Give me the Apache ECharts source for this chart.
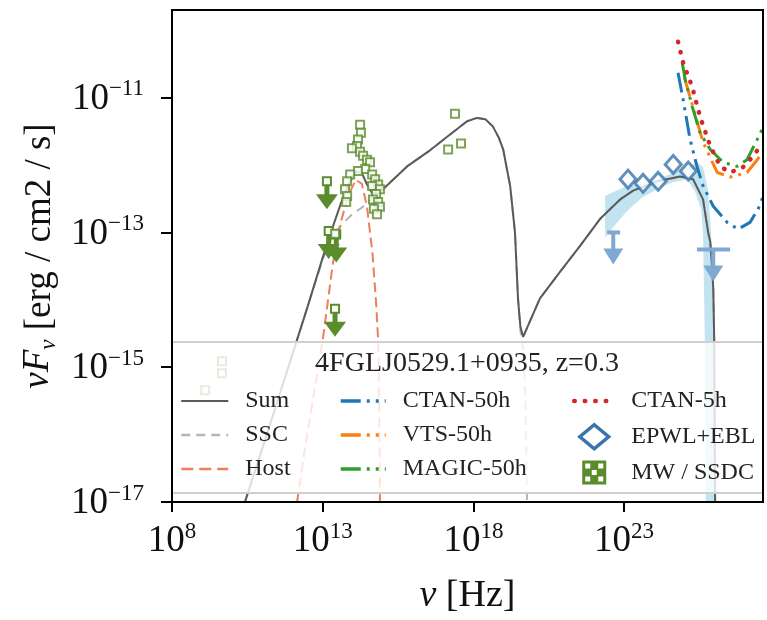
<!DOCTYPE html>
<html>
<head>
<meta charset="utf-8">
<script src="https://cdn.jsdelivr.net/npm/echarts@6/dist/echarts.min.js"></script>
<style>
  html, body { margin: 0; padding: 0; background: #fff; }
  #chart { width: 767px; height: 620px; }
</style>
</head>
<body>
<div id="chart"></div>
<script>
// SED of 4FGL J0529.1+0935: model components, archival data and IACT sensitivities.
// Every pair is [frequency in Hz, nuFnu in erg/cm2/s].

const nuTicks = [1e8, 1e13, 1e18, 1e23];
const fluxTicks = [1e-17, 1e-15, 1e-13, 1e-11];

const sumCurve = [
  [2.63e10, 1e-17], [1e11, 6.31e-17], [3.16e11, 3.16e-16], [1e12, 1.58e-15], [3.16e12, 7.94e-15],
  [1e13, 4.23e-14], [2.19e13, 1.23e-13], [3.98e13, 2.67e-13], [7.08e13, 5.13e-13], [1.26e14, 8.07e-13],
  [2e14, 7.59e-13], [2.95e14, 5.15e-13], [4.47e14, 3.74e-13], [6.92e14, 3.92e-13], [1e15, 4.37e-13],
  [6.31e15, 9.55e-13], [3.16e16, 1.58e-12], [1.35e17, 2.63e-12], [6.17e17, 4.47e-12], [1.32e18, 5.01e-12],
  [2.51e18, 4.79e-12], [4.47e18, 3.72e-12], [7.08e18, 2.51e-12], [9.77e18, 1.70e-12], [1.26e19, 9.3e-13],
  [1.66e19, 4.9e-13], [2.4e19, 1e-13], [3.02e19, 1.05e-14], [3.63e19, 3.98e-15], [4.47e19, 2.82e-15],
  [1.62e20, 1.05e-14], [7.59e20, 2.63e-14], [3.47e21, 6.31e-14], [1.58e22, 1.58e-13], [7.41e22, 3.09e-13],
  [2e23, 4.17e-13], [1.26e24, 5.75e-13], [7.24e24, 6.76e-13], [1.95e25, 6.17e-13], [4.17e25, 3.09e-13],
  [6.17e25, 1e-13], [7.24e25, 7.24e-14], [8.32e25, 3.16e-14], [9.12e25, 1.45e-14], [9.77e25, 2.69e-15],
  [1.05e26, 1e-17]
];

// synchrotron hump of the SSC model
const sscSync = [
  [2.63e10, 1e-17], [1e11, 6.31e-17], [3.16e11, 3.16e-16], [1e12, 1.58e-15], [3.16e12, 7.94e-15],
  [1e13, 3.98e-14], [2e13, 8.32e-14], [3.98e13, 1.26e-13], [1e14, 1.91e-13], [2e14, 2.34e-13],
  [5.01e14, 3.39e-13], [1e15, 4.37e-13], [6.31e15, 9.55e-13], [3.16e16, 1.58e-12], [1.35e17, 2.63e-12],
  [6.17e17, 4.47e-12], [1.32e18, 5.01e-12], [2.51e18, 4.79e-12], [4.47e18, 3.72e-12], [7.08e18, 2.51e-12],
  [9.77e18, 1.70e-12], [1.26e19, 9.3e-13], [1.66e19, 4.9e-13], [2.4e19, 1e-13], [3.02e19, 1.05e-14],
  [3.63e19, 3.55e-15], [4.47e19, 1.78e-15], [5.25e19, 3.98e-16], [6.03e19, 1e-17]
];

// inverse-Compton hump of the SSC model
const sscIC = [
  [4.47e19, 2.82e-15], [1.62e20, 1.05e-14], [7.59e20, 2.63e-14], [3.47e21, 6.31e-14], [1.58e22, 1.58e-13],
  [7.41e22, 3.09e-13], [2e23, 4.17e-13], [1.26e24, 5.75e-13], [7.24e24, 6.76e-13], [1.95e25, 6.17e-13],
  [4.17e25, 3.09e-13], [6.17e25, 1e-13], [7.24e25, 7.24e-14], [8.32e25, 3.16e-14], [9.12e25, 1.45e-14],
  [9.77e25, 2.69e-15], [1.05e26, 1e-17]
];

const hostCurve = [
  [1.41e12, 1e-17], [3.16e12, 1.12e-16], [1e13, 2.51e-15], [2.19e13, 3.55e-14], [3.98e13, 1.41e-13],
  [7.08e13, 3.55e-13], [1.26e14, 6.03e-13], [2e14, 5.25e-13], [2.95e14, 2.4e-13], [4.47e14, 5.01e-14],
  [6.03e14, 7.94e-15], [6.92e14, 2.51e-15], [7.59e14, 1.58e-16], [7.94e14, 1e-17]
];

const ctaN50h = [
  [6.17e24, 2.34e-11], [9.12e24, 9.33e-12], [1.55e25, 2.4e-12], [2.63e25, 9.55e-13], [4.17e25, 4.9e-13],
  [9.12e25, 2.45e-13], [2.63e26, 1.41e-13], [6.03e26, 1.12e-13], [1.51e27, 1.41e-13], [2.82e27, 2.24e-13],
  [3.98e27, 3.31e-13]
];
const vts50h = [
  [1e25, 2e-11], [1.82e25, 7.94e-12], [4.17e25, 2.19e-12], [1.23e26, 7.76e-13], [3.31e26, 6.61e-13],
  [1.2e27, 7.76e-13], [2.63e27, 1.2e-12], [3.98e27, 1.58e-12]
];
const magic50h = [
  [8.51e24, 3.31e-11], [1.07e25, 1.86e-11], [1.82e25, 7.41e-12], [3.31e25, 3.02e-12], [7.24e25, 1.7e-12],
  [1.95e26, 1.1e-12], [5.62e26, 9.55e-13], [1.2e27, 1.2e-12], [2.63e27, 2.4e-12], [3.98e27, 3.55e-12]
];
const ctaN5h = [
  [6.17e24, 6.76e-11], [9.12e24, 3.31e-11], [1.82e25, 1.45e-11], [3.31e25, 5.25e-12], [7.24e25, 1.91e-12],
  [1.55e26, 9.55e-13], [3.31e26, 7.76e-13], [8.91e26, 9.33e-13], [1.91e27, 1.35e-12], [3.31e27, 1.91e-12],
  [3.98e27, 2.09e-12]
];

// Fermi-LAT spectral points (EPWL + EBL)
const epwlPoints = [
  [1.35e23, 6.17e-13], [4.27e23, 5.37e-13], [1.35e24, 5.75e-13], [4.27e24, 1.02e-12], [1.35e25, 8.13e-13]
];
// [nu, upper limit, nu low, nu high]
const epwlUpperLimits = [
  [4.37e22, 1e-13, 2.75e22, 7.4e22],
  [9.1e25, 5.6e-14, 2.63e25, 3.3e26]
];
// butterfly of the fit
const bandUpper = [
  [2.34e22, 3.47e-13], [5.01e22, 4.07e-13], [1.26e23, 4.9e-13], [3.98e23, 5.37e-13], [1.26e24, 6.17e-13],
  [3.89e24, 7.59e-13], [1.23e25, 9.33e-13], [2.63e25, 1.1e-12], [4.17e25, 9.33e-13], [6.03e25, 4.37e-13],
  [7.59e25, 1.12e-13], [9.55e25, 1.05e-14], [1.05e26, 1e-17]
];
const bandLower = [
  [2.34e22, 8.5e-14], [5.01e22, 1.29e-13], [1.26e23, 2.09e-13], [3.98e23, 3.31e-13], [1.26e24, 4.37e-13],
  [3.89e24, 5.5e-13], [1.23e25, 6.17e-13], [2.24e25, 4.07e-13], [3.63e25, 2.19e-13], [4.17e25, 9.5e-14],
  [4.79e25, 2.63e-15], [5.13e25, 1e-17]
];

// multiwavelength archive (SSDC)
const mwPoints = [
  [1.74e14, 3.98e-12], [1.86e14, 3.02e-12], [1.48e14, 2.40e-12], [1.38e14, 1.91e-12], [9.33e13, 1.78e-12],
  [1.74e14, 1.58e-12], [2.19e14, 1.38e-12], [2.95e14, 1.20e-12], [3.72e14, 1.10e-12], [2.57e14, 8.71e-13],
  [1.48e14, 8.13e-13], [8.13e13, 7.24e-13], [6.46e13, 5.75e-13], [5.50e13, 4.37e-13], [6.46e13, 3.47e-13],
  [6.03e13, 2.82e-13], [4.37e14, 7.24e-13], [5.50e14, 6.17e-13], [6.92e14, 5.13e-13], [4.37e14, 4.90e-13],
  [7.94e14, 4.37e-13], [5.89e14, 3.72e-13], [4.68e14, 3.09e-13], [6.92e14, 2.82e-13], [7.94e14, 2.40e-13],
  [5.01e14, 2.24e-13], [6.31e14, 1.86e-13], [2.57e13, 9.55e-14], [2.45e17, 5.75e-12], [1.45e17, 1.70e-12],
  [3.89e17, 2.09e-12], [4.57e9, 1.23e-15], [4.57e9, 8.13e-16], [1.26e9, 4.57e-16]
];
const mwUpperLimits = [
  [1.38e13, 5.75e-13], [1.58e13, 1.05e-13], [2.82e13, 9.3e-14], [2.57e13, 7.4e-15]
];

const legendTitle = '4FGLJ0529.1+0935, z=0.3';

const SERIF = '"Liberation Serif", "DejaVu Serif", serif';
const GREEN = '#5b8c2c';
const BLUE = '#3b74aa';
const UL_BLUE = '#7fa9d3';
const MW_ICON = 'path://M0,0L24,0L24,24L0,24Z' +
  'M3,3L3,8L8,8L8,3Z M16,3L16,8L21,8L21,3Z M3,16L3,21L8,21L8,16Z M16,16L16,21L21,21L21,16Z M9.5,9.5L9.5,14.5L14.5,14.5L14.5,9.5Z';
const DIAMOND_ICON = 'path://M12,0L24,10L12,20L0,10Z';
const DASH_DOT = [20, 6, 3, 6, 3, 6];

function powerLabel(v) {
  const e = Math.round(Math.log10(v));
  return '{b|10}{s|' + (e < 0 ? '\u2212' + (-e) : e) + '}';
}
const tickRich = {
  b: { fontFamily: SERIF, fontSize: 37, lineHeight: 40, color: '#111', verticalAlign: 'bottom' },
  s: { fontFamily: SERIF, fontSize: 23, lineHeight: 30, color: '#111', verticalAlign: 'top' }
};

function greenLimit(params, api) {
  const p = api.coord([api.value(0), api.value(1)]);
  return {
    type: 'group',
    children: [
      { type: 'rect', shape: { x: p[0] - 2.5, y: p[1], width: 5, height: 16 }, style: { fill: GREEN } },
      { type: 'polygon', shape: { points: [[p[0] - 11, p[1] + 13], [p[0] + 11, p[1] + 13], [p[0], p[1] + 28]] }, style: { fill: GREEN } },
      { type: 'rect', shape: { x: p[0] - 4, y: p[1] - 4, width: 8, height: 8 }, style: { fill: '#fff', stroke: GREEN, lineWidth: 2 } }
    ]
  };
}

function blueLimit(params, api) {
  const p = api.coord([api.value(0), api.value(1)]);
  const a = api.coord([api.value(2), api.value(1)]);
  const b = api.coord([api.value(3), api.value(1)]);
  return {
    type: 'group',
    children: [
      { type: 'line', shape: { x1: a[0], y1: p[1], x2: b[0], y2: p[1] }, style: { stroke: UL_BLUE, lineWidth: 4 } },
      { type: 'rect', shape: { x: p[0] - 2, y: p[1], width: 4, height: 18 }, style: { fill: UL_BLUE } },
      { type: 'polygon', shape: { points: [[p[0] - 10, p[1] + 16], [p[0] + 10, p[1] + 16], [p[0], p[1] + 32]] }, style: { fill: UL_BLUE } }
    ]
  };
}

function butterfly(params, api) {
  if (params.dataIndex !== 0) return null;
  const pts = bandUpper.map(d => api.coord(d))
    .concat(bandLower.slice().reverse().map(d => api.coord(d)));
  return { type: 'polygon', shape: { points: pts }, style: { fill: 'rgba(160,214,232,0.65)' } };
}

function lineSeries(name, data, color, width, type, z) {
  return {
    name: name, type: 'line', data: data, symbol: 'none', z: z || 2,
    lineStyle: { color: color, width: width, type: type },
    itemStyle: { color: color }
  };
}

function lineKey(name, color, width, type, cap) {
  return { name: name, lineStyle: { color: color, width: width, type: type, cap: cap || 'butt' } };
}

const legendText = { fontFamily: SERIF, fontSize: 24, color: '#222', lineHeight: 24, padding: [0, 0, 0, 12] };
function legendBlock(left, width, names) {
  return {
    orient: 'vertical', left: left, top: 389, padding: 0, itemGap: 10,
    itemWidth: width, itemHeight: 24, z: 20, selectedMode: false,
    itemStyle: { opacity: 0 },
    textStyle: legendText, data: names
  };
}

const chart = echarts.init(document.getElementById('chart'), null, { renderer: 'canvas' });

chart.setOption({
  animation: false,
  backgroundColor: '#fff',
  grid: { left: 172, right: 4, top: 10, bottom: 116, show: true, borderColor: '#000', borderWidth: 2, z: 30, backgroundColor: 'transparent' },
  xAxis: {
    type: 'log', min: 1e8, max: 4.07e27, z: 30,
    name: '{i|\u03bd} [Hz]', nameLocation: 'middle', nameGap: 75,
    nameTextStyle: {
      fontFamily: SERIF, fontSize: 38, color: '#111',
      rich: { i: { fontFamily: SERIF, fontSize: 38, fontStyle: 'italic', color: '#111' } }
    },
    axisLine: { lineStyle: { color: '#000', width: 2 } },
    axisTick: { length: 10, lineStyle: { color: '#000', width: 2 }, customValues: nuTicks },
    minorTick: { show: false },
    axisLabel: { customValues: nuTicks, formatter: powerLabel, rich: tickRich, margin: 18 },
    splitLine: { show: false }
  },
  yAxis: {
    type: 'log', min: 1e-17, max: 2e-10, z: 30,
    name: '{i|\u03bdF}{sub|\u03bd} [erg / cm2 / s]', nameLocation: 'middle', nameGap: 112,
    nameTextStyle: {
      fontFamily: SERIF, fontSize: 37, color: '#111',
      rich: {
        i: { fontFamily: SERIF, fontSize: 37, fontStyle: 'italic', color: '#111', lineHeight: 40, verticalAlign: 'top' },
        sub: { fontFamily: SERIF, fontSize: 23, fontStyle: 'italic', color: '#111', lineHeight: 40, verticalAlign: 'bottom' }
      }
    },
    axisLine: { lineStyle: { color: '#000', width: 2 } },
    axisTick: { length: 11, lineStyle: { color: '#000', width: 2 }, customValues: fluxTicks },
    minorTick: { show: false },
    axisLabel: { customValues: fluxTicks, formatter: powerLabel, rich: tickRich, margin: 28 },
    splitLine: { show: false }
  },
  legend: [
    legendBlock(180, 47, [
      lineKey('Sum', '#5a5a5a', 2.2, 'solid'),
      lineKey('SSC', '#b5b5b5', 2.5, [9, 6]),
      lineKey('Host', '#ee7f5a', 2.5, [12, 6])
    ]),
    legendBlock(339, 45, [
      lineKey('CTAN-50h', '#1f77b4', 3.5, DASH_DOT),
      lineKey('VTS-50h', '#ff7f0e', 3.5, DASH_DOT),
      lineKey('MAGIC-50h', '#2ca02c', 3.5, DASH_DOT)
    ]),
    legendBlock(572, 40, [
      lineKey('CTAN-5h', '#d62728', 4.5, [0.5, 10], 'round'),
      { name: 'EPWL+EBL', icon: DIAMOND_ICON, itemStyle: { opacity: 1, color: '#fff', borderColor: BLUE, borderWidth: 3.5 } },
      { name: 'MW / SSDC', icon: MW_ICON, itemStyle: { opacity: 1, color: GREEN, borderWidth: 0 } }
    ])
  ],
  graphic: [
    { type: 'rect', z: 10, shape: { x: 173, y: 342, width: 589, height: 151 }, style: { fill: 'rgba(255,255,255,0.8)' } },
    { type: 'line', z: 10, shape: { x1: 173, y1: 342, x2: 762, y2: 342 }, style: { stroke: '#cfcfcf', lineWidth: 2 } },
    { type: 'line', z: 10, shape: { x1: 173, y1: 493, x2: 762, y2: 493 }, style: { stroke: '#cfcfcf', lineWidth: 2 } },
    {
      type: 'text', z: 20, x: 467, y: 364,
      style: { text: legendTitle, fontFamily: SERIF, fontSize: 28, fill: '#222', align: 'center', verticalAlign: 'middle', textAlign: 'center', textVerticalAlign: 'middle' }
    }
  ],
  series: [
    { type: 'custom', renderItem: butterfly, data: [bandUpper[0]], z: 1, silent: true },
    lineSeries('SSC', sscSync, '#b5b5b5', 2, [9, 6]),
    lineSeries('SSC', sscIC, '#b5b5b5', 2, [9, 6]),
    lineSeries('Host', hostCurve, '#ee7f5a', 2, [10, 5]),
    lineSeries('Sum', sumCurve, '#5a5a5a', 2, 'solid', 3),
    lineSeries('CTAN-50h', ctaN50h, '#1f77b4', 3, DASH_DOT, 4),
    lineSeries('VTS-50h', vts50h, '#ff7f0e', 3, DASH_DOT, 4),
    lineSeries('MAGIC-50h', magic50h, '#2ca02c', 3, DASH_DOT, 4),
    {
      name: 'CTAN-5h', type: 'line', data: ctaN5h, symbol: 'none', z: 4,
      lineStyle: { color: '#d62728', width: 4.5, type: [0.5, 10], cap: 'round' },
      itemStyle: { color: '#d62728' }
    },
    { type: 'custom', renderItem: blueLimit, data: epwlUpperLimits, encode: { x: 0, y: 1 }, z: 5 },
    {
      name: 'EPWL+EBL', type: 'scatter', data: epwlPoints, symbol: 'diamond', symbolSize: [16, 18], z: 6,
      itemStyle: { color: '#fff', borderColor: BLUE, borderWidth: 3 }
    },
    { type: 'custom', renderItem: greenLimit, data: mwUpperLimits, encode: { x: 0, y: 1 }, z: 6 },
    {
      name: 'MW / SSDC', type: 'scatter', data: mwPoints, symbol: 'rect', symbolSize: 8, z: 6,
      itemStyle: { color: '#fff', borderColor: GREEN, borderWidth: 2 }
    }
  ]
});
</script>
</body>
</html>
